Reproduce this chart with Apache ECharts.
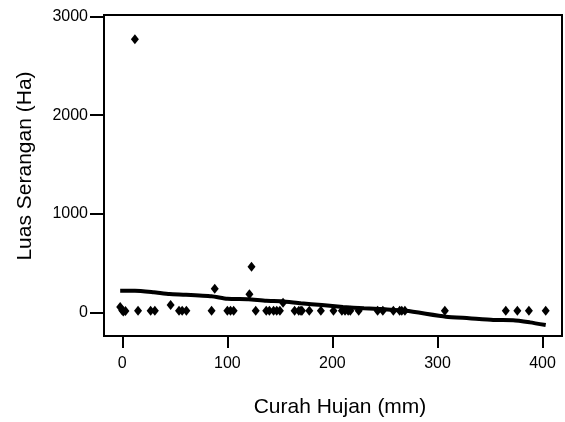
<!DOCTYPE html>
<html>
<head>
<meta charset="utf-8">
<script src="https://cdn.jsdelivr.net/npm/echarts@6/dist/echarts.min.js"></script>
<style>
  html, body { margin: 0; padding: 0; background: #fff; }
  #chart { width: 565px; height: 422px; }
</style>
</head>
<body>
<div id="chart"></div>
<script>
// Curah Hujan (mm) vs Luas Serangan (Ha)
const curahHujan = [-2, 0, 1, 3, 12, 15, 27, 31, 46, 54, 57, 61, 85, 88, 100, 103, 106, 121, 123, 127,
  137, 140, 144, 147, 150, 153, 164, 168, 170, 171, 178, 189, 201, 209, 212, 215, 217, 225,
  243, 248, 258, 264, 266, 269, 307, 365, 376, 387, 403];
const luasSerangan = [55, 20, 10, 15, 2770, 18, 18, 18, 75, 18, 18, 18, 18, 240, 18, 18, 18, 185, 465, 18,
  18, 18, 18, 18, 18, 100, 18, 18, 18, 18, 18, 18, 18, 18, 18, 18, 18, 18,
  18, 18, 18, 18, 18, 18, 18, 18, 18, 18, 18];

// smoothed trend line
const trendX = [-2, 12, 30, 45, 60, 85, 100, 120, 137, 152, 170, 190, 210, 230, 250, 270, 308, 330, 353, 372, 388, 403];
const trendY = [221, 221, 205, 187, 181, 165, 140, 134, 118, 114, 93, 76, 56, 42, 32, 18, -42, -58, -76, -78, -100, -127];

const xTicks = [0, 100, 200, 300, 400];
const yTicks = [0, 1000, 2000, 3000];

const scatterData = curahHujan.map((x, i) => [x, luasSerangan[i]]);
const trendData = trendX.map((x, i) => [x, trendY[i]]);

const FONT = "'Liberation Sans', Arial, sans-serif";
const chart = echarts.init(document.getElementById('chart'), null, { renderer: 'canvas' });
chart.setOption({
  animation: false,
  backgroundColor: '#fff',
  grid: {
    left: 104, top: 15, right: 3, bottom: 86,
    show: true, borderColor: '#000', borderWidth: 2, backgroundColor: 'transparent'
  },
  xAxis: {
    type: 'value', min: -17.4, max: 418.5, position: 'bottom',
    axisLine: { show: false, onZero: false },
    splitLine: { show: false },
    axisTick: { show: true, inside: false, customValues: xTicks, length: 12, lineStyle: { color: '#000', width: 2 } },
    axisLabel: { customValues: xTicks, margin: 20, fontSize: 16, color: '#000', fontFamily: FONT,
      formatter: v => String(v) }
  },
  yAxis: {
    type: 'value', min: -238, max: 3015, position: 'left',
    axisLine: { show: false, onZero: false },
    splitLine: { show: false },
    axisTick: { show: true, inside: false, customValues: yTicks, length: 14, lineStyle: { color: '#000', width: 2 } },
    axisLabel: { customValues: yTicks, margin: 16, fontSize: 16, color: '#000', fontFamily: FONT,
      formatter: v => String(v) }
  },
  graphic: [
    { type: 'text', x: 340, y: 407,
      style: { text: 'Curah Hujan (mm)', fontSize: 21, fontFamily: FONT, fill: '#000', align: 'center', verticalAlign: 'middle' } },
    { type: 'text', x: 25.5, y: 166, rotation: Math.PI / 2,
      style: { text: 'Luas Serangan (Ha)', fontSize: 21, fontFamily: FONT, fill: '#000', align: 'center', verticalAlign: 'middle' } }
  ],
  series: [
    {
      type: 'line', data: trendData, showSymbol: false, smooth: 0.2,
      lineStyle: { color: '#000', width: 4 }, z: 2
    },
    {
      type: 'scatter', data: scatterData, symbol: 'diamond', symbolSize: [8, 10],
      itemStyle: { color: '#000', opacity: 1 }, z: 3
    }
  ]
});
</script>
</body>
</html>
